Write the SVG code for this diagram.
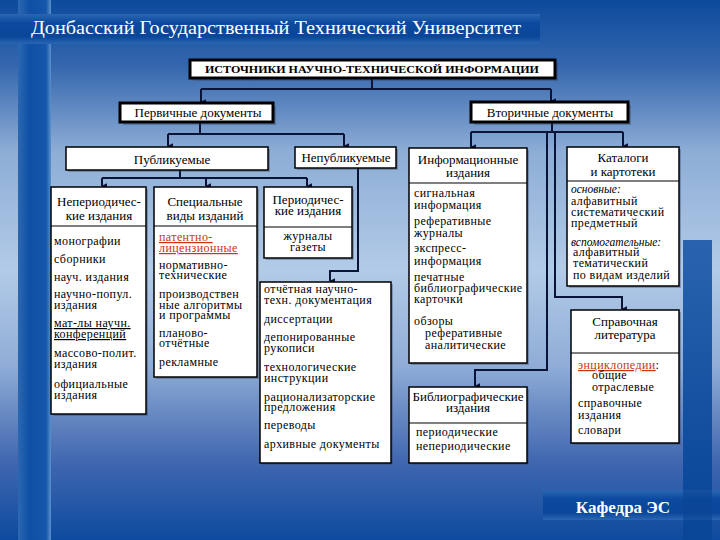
<svg xmlns="http://www.w3.org/2000/svg" width="720" height="540" viewBox="0 0 720 540">
<defs>
<linearGradient id="bg" x1="0" y1="0" x2="0" y2="1">
<stop offset="0" stop-color="#0c4a9c"/>
<stop offset="0.12" stop-color="#3466ad"/>
<stop offset="0.28" stop-color="#8dadd6"/>
<stop offset="0.5" stop-color="#b2cbe7"/>
<stop offset="0.68" stop-color="#8eacd6"/>
<stop offset="0.85" stop-color="#4268b0"/>
<stop offset="1" stop-color="#0d4a9e"/>
</linearGradient>
<linearGradient id="vstripe" x1="0" y1="0" x2="1" y2="0">
<stop offset="0" stop-color="#2c68b2"/>
<stop offset="0.35" stop-color="#0f50a4"/>
<stop offset="0.85" stop-color="#1656aa"/>
<stop offset="1" stop-color="#5a92cc"/>
</linearGradient>
<linearGradient id="hband" x1="0" y1="0" x2="0" y2="1">
<stop offset="0" stop-color="#2a66b2"/>
<stop offset="0.3" stop-color="#0b4a9e"/>
<stop offset="0.75" stop-color="#0a469a"/>
<stop offset="1" stop-color="#2a66b2"/>
</linearGradient>
<linearGradient id="rstripe" x1="0" y1="0" x2="0" y2="1">
<stop offset="0" stop-color="#1a58a8" stop-opacity="0.9"/>
<stop offset="1" stop-color="#0a4698"/>
</linearGradient>
<marker id="arr" viewBox="0 0 8 8" refX="4" refY="7" markerWidth="6" markerHeight="6" markerUnits="userSpaceOnUse" orient="auto-start-reverse">
<path d="M0,0 L8,0 L4,8 Z" fill="#0a1438"/>
</marker>
<style>
.box{fill:#ffffff;stroke:#000000;stroke-width:1.5}
.tbox{fill:#ffffff;stroke:#000000;stroke-width:3}
.sh{fill:#33405a;opacity:0.35}
.div{stroke:#000000;stroke-width:1.2}
.c{fill:none;stroke:#0a1438;stroke-width:2}
.ca{fill:none;stroke:#0a1438;stroke-width:2;marker-end:url(#arr)}
text{font-family:"Liberation Serif","Times New Roman",serif;fill:#000000}
.h{font-size:13px;text-anchor:middle}
.b{font-size:12px;letter-spacing:0.4px}
.m{font-size:12px;letter-spacing:0.4px;text-anchor:middle}
.red{fill:#cc3311;text-decoration:underline}
.u{text-decoration:underline}
.it{font-style:italic;font-size:11.5px}
</style>
</defs>
<rect x="0" y="0" width="720" height="540" fill="url(#bg)"/>
<rect x="18" y="0" width="33" height="540" fill="url(#vstripe)"/>
<rect x="683" y="240" width="29" height="300" fill="url(#rstripe)"/>
<rect x="0" y="14" width="540" height="30" fill="url(#hband)"/>
<rect x="543" y="490" width="177" height="30" fill="url(#hband)"/>
<rect x="683" y="490" width="29" height="30" fill="#0a4494" opacity="0.6"/>
<text x="31" y="34" font-size="19" style="fill:#ffffff" textLength="490" lengthAdjust="spacingAndGlyphs">Донбасский Государственный Технический Университет</text>
<text x="623" y="513" font-size="17" font-weight="bold" text-anchor="middle" style="fill:#ffffff">Кафедра ЭС</text>

<g id="connectors">
<path class="c" d="M372,78 V89 M201,89 H551"/>
<path class="ca" d="M201,89 V102"/>
<path class="ca" d="M551,89 V101"/>
<path class="c" d="M200,122 V134 M168,134 H344"/>
<path class="ca" d="M168,134 V146"/>
<path class="ca" d="M344,134 V146"/>
<path class="c" d="M180,170 V178 M102,178 H307"/>
<path class="ca" d="M102,178 V186"/>
<path class="ca" d="M206,178 V186"/>
<path class="ca" d="M307,178 V186"/>
<path class="ca" d="M358,168 V271 H330 V281"/>
<path class="c" d="M552,122 V132 M471,132 H623"/>
<path class="ca" d="M471,132 V147"/>
<path class="ca" d="M623,132 V146"/>
<path class="ca" d="M547,132 V370 H475 V386"/>
<path class="ca" d="M555,132 V297 H622 V309"/>
</g>

<g id="n-main">
<rect class="sh" x="193" y="63" width="365" height="18"/>
<rect class="tbox" x="190" y="60" width="365" height="18"/>
<text x="372" y="73" font-size="11" font-weight="bold" text-anchor="middle" textLength="334" lengthAdjust="spacingAndGlyphs">ИСТОЧНИКИ НАУЧНО-ТЕХНИЧЕСКОЙ ИНФОРМАЦИИ</text>
</g>
<g id="n-primary">
<rect class="sh" x="123" y="106" width="153" height="19"/>
<rect class="tbox" x="120" y="103" width="153" height="19"/>
<text class="h" x="198" y="117">Первичные документы</text>
</g>
<g id="n-secondary">
<rect class="sh" x="474" y="105" width="157" height="20"/>
<rect class="tbox" x="471" y="102" width="157" height="20"/>
<text class="h" x="550" y="117">Вторичные документы</text>
</g>
<g id="n-published">
<rect class="sh" x="68" y="149" width="202" height="23"/>
<rect class="box" x="66" y="147" width="202" height="23"/>
<text class="h" x="172" y="164">Публикуемые</text>
</g>
<g id="n-unpublished">
<rect class="sh" x="297" y="149" width="101" height="21"/>
<rect class="box" x="295" y="147" width="101" height="21"/>
<text class="h" x="346" y="162">Непубликуемые</text>
</g>
<g id="n-nonperiodic">
<rect class="sh" x="53" y="189" width="95" height="227"/>
<rect class="box" x="51" y="187" width="95" height="227"/>
<line class="div" x1="51" y1="226" x2="146" y2="226"/>
<text class="h" x="99" y="206">Непериодичес-</text>
<text class="h" x="99" y="220">кие издания</text>
<text class="b" x="54" y="245">монографии</text>
<text class="b" x="54" y="263">сборники</text>
<text class="b" x="54" y="281">науч. издания</text>
<text class="b" x="54" y="298">научно-попул.</text>
<text class="b" x="54" y="309">издания</text>
<text class="b u" x="54" y="327">мат-лы научн.</text>
<text class="b u" x="54" y="338">конференций</text>
<text class="b" x="54" y="357">массово-полит.</text>
<text class="b" x="54" y="368">издания</text>
<text class="b" x="54" y="388">официальные</text>
<text class="b" x="54" y="399">издания</text>
</g>
<g id="n-special">
<rect class="sh" x="156" y="189" width="103" height="190"/>
<rect class="box" x="154" y="187" width="103" height="190"/>
<line class="div" x1="154" y1="226" x2="257" y2="226"/>
<text class="h" x="205" y="206">Специальные</text>
<text class="h" x="205" y="220">виды изданий</text>
<text class="b red" x="159" y="241">патентно-</text>
<text class="b red" x="159" y="252">лицензионные</text>
<text class="b" x="159" y="269">нормативно-</text>
<text class="b" x="159" y="279">технические</text>
<text class="b" x="159" y="298">производствен</text>
<text class="b" x="159" y="309">ные алгоритмы</text>
<text class="b" x="159" y="319">и программы</text>
<text class="b" x="159" y="337">планово-</text>
<text class="b" x="159" y="347">отчётные</text>
<text class="b" x="159" y="366">рекламные</text>
</g>
<g id="n-periodic">
<rect class="sh" x="266" y="189" width="88" height="71"/>
<rect class="box" x="264" y="187" width="88" height="71"/>
<line class="div" x1="264" y1="227" x2="352" y2="227"/>
<text class="h" x="308" y="204">Периодичес-</text>
<text class="h" x="308" y="215">кие издания</text>
<text class="m" x="308" y="240">журналы</text>
<text class="m" x="308" y="251">газеты</text>
</g>
<g id="n-unpub-list">
<rect class="sh" x="262" y="284" width="131" height="181"/>
<rect class="box" x="260" y="282" width="131" height="181"/>
<text class="b" x="264" y="293">отчётная научно-</text>
<text class="b" x="264" y="304">техн. документация</text>
<text class="b" x="264" y="323">диссертации</text>
<text class="b" x="264" y="341">депонированные</text>
<text class="b" x="264" y="352">рукописи</text>
<text class="b" x="264" y="371">технологические</text>
<text class="b" x="264" y="382">инструкции</text>
<text class="b" x="264" y="401">рационализаторские</text>
<text class="b" x="264" y="411">предложения</text>
<text class="b" x="264" y="429">переводы</text>
<text class="b" x="264" y="448">архивные документы</text>
</g>
<g id="n-info">
<rect class="sh" x="411" y="150" width="118" height="215"/>
<rect class="box" x="409" y="148" width="118" height="215"/>
<line class="div" x1="409" y1="183" x2="527" y2="183"/>
<text class="h" x="468" y="164">Информационные</text>
<text class="h" x="468" y="177">издания</text>
<text class="b" x="414" y="197">сигнальная</text>
<text class="b" x="414" y="209">информация</text>
<text class="b" x="414" y="225">реферативные</text>
<text class="b" x="414" y="237">журналы</text>
<text class="b" x="414" y="252">экспресс-</text>
<text class="b" x="414" y="265">информация</text>
<text class="b" x="414" y="281">печатные</text>
<text class="b" x="414" y="292">библиографические</text>
<text class="b" x="414" y="303">карточки</text>
<text class="b" x="414" y="325">обзоры</text>
<text class="b" x="425" y="337">реферативные</text>
<text class="b" x="425" y="349">аналитические</text>
</g>
<g id="n-biblio">
<rect class="sh" x="411" y="389" width="118" height="76"/>
<rect class="box" x="409" y="387" width="118" height="76"/>
<line class="div" x1="409" y1="423" x2="527" y2="423"/>
<text class="h" x="468" y="401">Библиографические</text>
<text class="h" x="468" y="412">издания</text>
<text class="b" x="416" y="436">периодические</text>
<text class="b" x="416" y="450">непериодические</text>
</g>
<g id="n-catalogs">
<rect class="sh" x="569" y="149" width="112" height="139"/>
<rect class="box" x="567" y="147" width="112" height="139"/>
<line class="div" x1="567" y1="181" x2="679" y2="181"/>
<text class="h" x="623" y="162">Каталоги</text>
<text class="h" x="623" y="176">и картотеки</text>
<text class="it" x="571" y="193">основные:</text>
<text class="b" x="571" y="205">алфавитный</text>
<text class="b" x="571" y="216">систематический</text>
<text class="b" x="571" y="227">предметный</text>
<text class="it" x="571" y="246">вспомогательные:</text>
<text class="b" x="573" y="256">алфавитный</text>
<text class="b" x="573" y="267">тематический</text>
<text class="b" x="573" y="279">по видам изделий</text>
</g>
<g id="n-reference">
<rect class="sh" x="573" y="312" width="108" height="133"/>
<rect class="box" x="571" y="310" width="108" height="133"/>
<line class="div" x1="571" y1="353" x2="679" y2="353"/>
<text class="h" x="625" y="326">Справочная</text>
<text class="h" x="625" y="339">литература</text>
<text class="b" x="578" y="369"><tspan class="red">энциклопедии</tspan>:</text>
<text class="b" x="592" y="379">общие</text>
<text class="b" x="592" y="391">отраслевые</text>
<text class="b" x="578" y="407">справочные</text>
<text class="b" x="578" y="419">издания</text>
<text class="b" x="578" y="434">словари</text>
</g>
</svg>
